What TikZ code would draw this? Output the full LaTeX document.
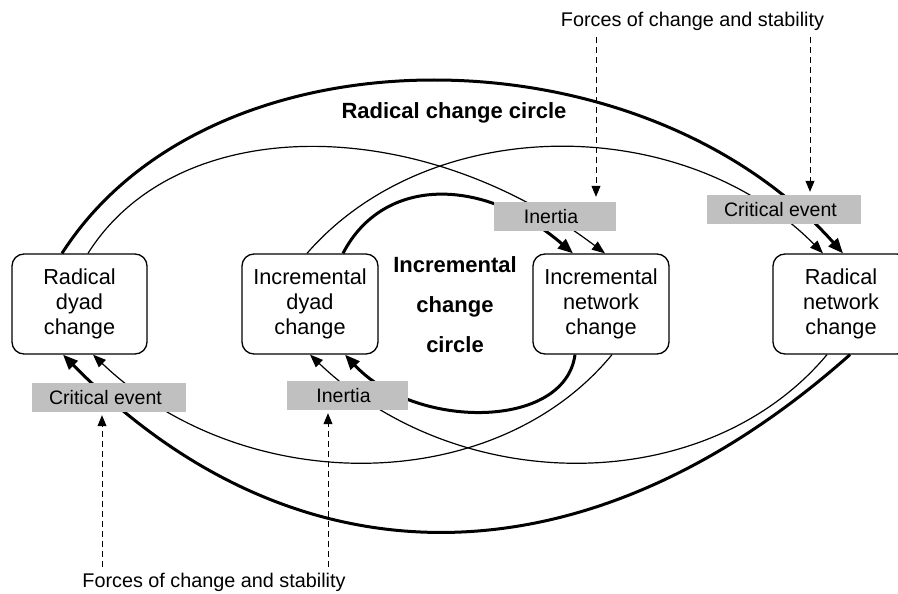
\documentclass[tikz,border=0pt]{standalone}
\usepackage{fontspec}
\setmainfont{Liberation Sans}
\usetikzlibrary{arrows.meta}
\definecolor{boxgray}{RGB}{192,192,192}
\begin{document}
\begin{tikzpicture}[x=1pt,y=-1pt,
  box/.style={draw=black, line width=1.3pt, rounded corners=12pt, minimum width=136pt, minimum height=100pt, align=center, inner sep=0pt, font=\fontsize{21.7}{25}\selectfont},
  graybox/.style={fill=boxgray, minimum width=#1, minimum height=29pt, inner sep=0pt, font=\fontsize{19.5}{22}\selectfont},
  forces/.style={inner sep=2pt, font=\fontsize{19.8}{22}\selectfont},
  circlelabel/.style={align=center, inner sep=0pt, font=\bfseries\fontsize{22}{40}\selectfont},
  thickarc/.style={line width=3pt, -{Triangle[length=15pt,width=12pt]}},
  thinarc/.style={line width=1.2pt, -{Triangle[length=13pt,width=10pt]}},
  dasharrow/.style={line width=1pt, dash pattern=on 6pt off 4pt, -{Triangle[length=11pt,width=9pt]}}
]
\useasboundingbox (0,0) rectangle (898,594);
\clip (0,0) rectangle (898,594);
\fill[white] (0,0) rectangle (898,594);

% main boxes
\node[box, minimum width=135pt] (rdc) at (79.5,304) {Radical\\dyad\\change};
\node[box] (idc) at (310,304) {Incremental\\dyad\\change};
\node[box] (inc) at (601,304) {Incremental\\network\\change};
\node[box] (rnc) at (841,304) {Radical\\network\\change};

% circle labels
\node[circlelabel] (rcc) at (454,113) {Radical change circle};
\node[circlelabel] (icc) at (455,305) {Incremental\\change\\circle};

% arcs (upper)
\draw[thickarc] ([xshift=-17.5pt]rdc.north) .. controls (210,22) and (640,26) .. ([xshift=2pt]rnc.north);
\draw[thinarc] ([xshift=8.5pt]rdc.north) .. controls (177,112) and (418,112) .. ([xshift=4pt]inc.north);
\draw[thinarc] ([xshift=-3pt]idc.north) .. controls (430,112) and (683,112) .. ([xshift=-18pt]rnc.north);
\draw[thickarc] ([xshift=33pt]idc.north) .. controls (383,176) and (483,176) .. ([xshift=-28pt]inc.north);
% arcs (lower)
\draw[thinarc] ([xshift=11pt]inc.south) .. controls (494,498) and (243,498) .. ([xshift=13.5pt]rdc.south);
\draw[thinarc] ([xshift=-14pt]rnc.south) .. controls (707,498) and (460,498) .. (idc.south);
\draw[thickarc] ([xshift=-26pt]inc.south) .. controls (565,430) and (415,430) .. ([xshift=35pt]idc.south);
\draw[thickarc] ([xshift=9pt]rnc.south) .. controls (585,590) and (295,590) .. ([xshift=-16.5pt]rdc.south);

% gray boxes on the arcs
\node[graybox=154pt] (ce1) at (109,397.5) {Critical event\hspace*{7pt}};
\node[graybox=121pt] (in1) at (347.5,395.5) {Inertia\hspace*{8pt}};
\node[graybox=122pt] (in2) at (555,216.5) {Inertia\hspace*{8pt}};
\node[graybox=154pt] (ce2) at (784,209.5) {Critical event\hspace*{7pt}};

% forces
\node[forces] (ftop) at (692.5,21) {Forces of change and stability};
\node[forces] (fbot) at (214,582) {Forces of change and stability};
\coordinate (t1) at ([xshift=-96.5pt]ftop.south);
\coordinate (t2) at ([xshift=117.5pt]ftop.south);
\coordinate (b1) at ([xshift=-112pt]fbot.north);
\coordinate (b2) at ([xshift=114pt]fbot.north);
\draw[dasharrow, shorten <=5pt, shorten >=5pt] (t1) -- (t1 |- in2.north);
\draw[dasharrow, shorten <=5pt, shorten >=3pt] (t2) -- (t2 |- ce2.north);
\draw[dasharrow, shorten <=4pt, shorten >=3pt] (b1) -- (b1 |- ce1.south);
\draw[dasharrow, shorten <=4pt, shorten >=3pt] (b2) -- (b2 |- in1.south);
\end{tikzpicture}
\end{document}
